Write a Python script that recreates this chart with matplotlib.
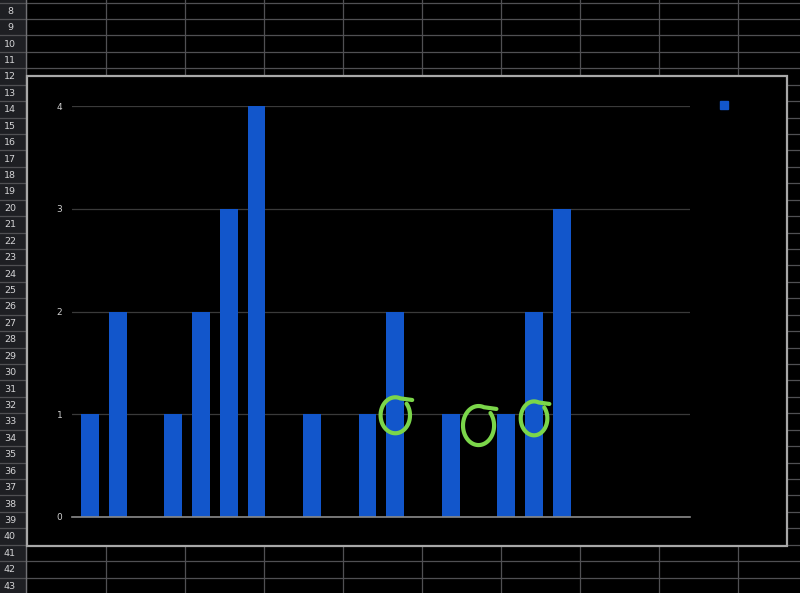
import matplotlib
matplotlib.use("Agg")
import matplotlib.pyplot as plt
import numpy as np
from matplotlib.patches import Rectangle

# chart data (categories are unlabeled in the source chart)
categories = list(range(22))
values = [1, 2, 0, 1, 2, 3, 4, 0, 1, 0, 1, 2, 0, 1, 0, 1, 2, 3, 0, 0, 0, 0]
y_ticks = [0, 1, 2, 3, 4]

# hand-drawn green marks: category, height of circle centre
marked_categories = [11, 14, 16]
marked_heights = [0.99, 0.89, 0.96]

# spreadsheet rows visible behind the chart
row_numbers = list(range(8, 44))

W, H = 800, 593
BAR_BLUE = "#1256cb"
MARK_GREEN = "#7bd64a"

fig = plt.figure(figsize=(W / 100, H / 100), dpi=100, facecolor="black")

# --- spreadsheet background (pixel coordinates) ---
sheet = fig.add_axes([0, 0, 1, 1], zorder=0)
sheet.set_xlim(0, W)
sheet.set_ylim(H, 0)
sheet.axis("off")
sheet.add_patch(Rectangle((0, 0), W, H, color="black"))

row_h = 16.43
row_top0 = 2.5
header_w = 25.5
sheet.add_patch(Rectangle((0, 0), header_w, H, color="#1e1f23"))
for i, num in enumerate(row_numbers):
    top = row_top0 + i * row_h
    sheet.plot([0, W], [top, top], color="#505053", lw=0.9)
    sheet.text(10, top + row_h / 2 + 0.5, str(num), color="#d4d4d6",
               fontsize=6.8, ha="center", va="center")
sheet.plot([header_w, header_w], [0, H], color="#707074", lw=1.0)
for x in np.arange(105.7, W, 79.0):
    sheet.plot([x, x], [0, H], color="#505053", lw=0.9)

# chart box
sheet.add_patch(Rectangle((27, 76), 760, 470, facecolor="black",
                          edgecolor="#a8a8a8", lw=1.6, zorder=5))
# legend swatch (no label text)
sheet.add_patch(Rectangle((720, 101), 8, 8, color=BAR_BLUE, zorder=6))

# --- bar chart ---
ax = fig.add_axes([72 / W, (H - 517) / H, 618 / W, 411 / H], zorder=2)
ax.set_facecolor("none")
ax.bar(categories, values, width=0.64, color=BAR_BLUE, zorder=3)
ax.set_xlim(-0.65, 21.62)
ax.set_ylim(0, 4)
ax.set_yticks(y_ticks)
ax.set_yticklabels([str(t) for t in y_ticks], color="#d0d0d0", fontsize=6.5)
ax.tick_params(axis="y", length=0, pad=7)
ax.set_xticks([])
ax.grid(axis="y", color="#3a3a3a", lw=0.9, zorder=1)
for side in ["top", "right", "left"]:
    ax.spines[side].set_visible(False)
ax.spines["bottom"].set_color("#8a8a8a")
ax.spines["bottom"].set_linewidth(1.2)
ax.spines["bottom"].set_zorder(4)

# hand-drawn circles over the bars
radii = [(0.53, 0.175), (0.56, 0.19), (0.48, 0.165)]
for cat, yc, (rx, ry) in zip(marked_categories, marked_heights, radii):
    t = np.linspace(np.radians(70), np.radians(70 + 330), 80)
    xs = cat + rx * np.cos(t)
    ys = yc + ry * np.sin(t)
    xs = np.concatenate([[cat + rx * 1.15], xs])
    ys = np.concatenate([[yc + ry * 0.85], ys])
    ax.plot(xs, ys, color=MARK_GREEN, lw=3.0, solid_capstyle="round",
            solid_joinstyle="round", zorder=6, clip_on=False)

fig.savefig("out.png", dpi=100, facecolor="black")
